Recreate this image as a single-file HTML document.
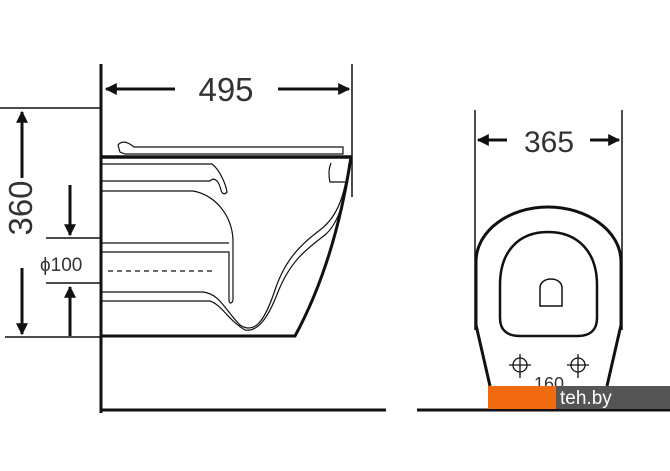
<!DOCTYPE html>
<html><head><style>
html,body{margin:0;padding:0;background:#fff;}
body{width:670px;height:471px;overflow:hidden;position:relative;font-family:"Liberation Sans",sans-serif;}
</style></head><body>
<svg width="670" height="471" viewBox="0 0 670 471" style="position:absolute;left:0;top:0">
<defs>
<marker id="a" viewBox="0 0 10 10" refX="9" refY="5" markerWidth="4" markerHeight="4" orient="auto"><path d="M0,0 L10,5 L0,10z" fill="#111"/></marker>
</defs>
<g stroke="#111" fill="none">
<line x1="101" y1="64" x2="101" y2="413" stroke-width="3"/>
<line x1="100" y1="410" x2="386" y2="410" stroke-width="3"/>
<line x1="0" y1="108" x2="101" y2="108" stroke-width="1.5"/>
<line x1="5" y1="337" x2="101" y2="337" stroke-width="1.5"/>
<line x1="46" y1="238" x2="101" y2="238" stroke-width="1.5"/>
<line x1="46" y1="283" x2="101" y2="283" stroke-width="1.5"/>
<line x1="352" y1="64" x2="352" y2="197" stroke-width="1.5"/>
<line x1="175" y1="89" x2="106" y2="89" stroke-width="3" marker-end="url(#a)"/>
<line x1="278" y1="89" x2="349" y2="89" stroke-width="3" marker-end="url(#a)"/>
<line x1="22" y1="178" x2="22" y2="112" stroke-width="3" marker-end="url(#a)"/>
<line x1="22" y1="268" x2="22" y2="334" stroke-width="3" marker-end="url(#a)"/>
<line x1="70" y1="185" x2="70" y2="235" stroke-width="3" marker-end="url(#a)"/>
<line x1="70" y1="336" x2="70" y2="287" stroke-width="3" marker-end="url(#a)"/>
<line x1="108" y1="271" x2="213" y2="271" stroke-width="1.2" stroke-dasharray="5,4"/>
<line x1="101" y1="157" x2="352" y2="157" stroke-width="3.5"/>
<path d="M351,157 C340,230 320,290 295,336 L101,336" stroke-width="3"/>
<path d="M120,152 L118,145 C122,140 128,142 134,147 L343,147 L343,154 L125,154 Z" stroke-width="1.2"/>
<g stroke-width="1.2">
<path d="M101,164 L212,164 C220,170 226,185 227,192 C225,195 222,194 221,190 C219,182 215,176 210,181 L101,181"/>
<path d="M101,191 L193,191 C215,195 232,215 233,240 L233,300 C232,304 229,304 229,300 L229,252 L101,252"/>
<path d="M229,243 L101,243"/>
<path d="M101,292 L203,292 C220,294 225,310 240,325 C255,335 265,320 275,290 C285,260 300,245 320,230 C340,215 345,190 349,164"/>
<path d="M101,301 L210,301 C222,305 228,320 245,330 C258,332 268,318 278,292 C290,262 305,250 325,235 C340,222 346,195 349,166"/>
<path d="M331,163 C328,170 329,178 330,182 L345,182"/>
</g>
<line x1="475" y1="110" x2="475" y2="330" stroke-width="1.5"/>
<line x1="622" y1="110" x2="622" y2="330" stroke-width="1.5"/>
<line x1="507" y1="140" x2="478" y2="140" stroke-width="3" marker-end="url(#a)"/>
<line x1="590" y1="140" x2="619" y2="140" stroke-width="3" marker-end="url(#a)"/>
<path d="M490,386 L476,325 L476,262 C476,230 510,207 548,207 C586,207 621,230 621,262 L621,325 L607,386" stroke-width="3"/>
<path d="M548,232 C578,232 597,252 597,285 L597,318 C597,330 590,336 578,336 L520,336 C507,336 500,330 500,318 L500,285 C500,252 518,232 548,232 Z" stroke-width="2.5"/>
<path d="M540,306 L540,288 C540,276 562,276 562,288 L562,306 Z" stroke-width="1.5"/>
<g stroke-width="1.3"><circle cx="520" cy="365" r="7"/><line x1="509" y1="365" x2="531" y2="365"/><line x1="520" y1="354" x2="520" y2="378"/>
<circle cx="578" cy="365" r="7"/><line x1="567" y1="365" x2="589" y2="365"/><line x1="578" y1="354" x2="578" y2="378"/></g>
<line x1="417" y1="410" x2="670" y2="410" stroke-width="3"/>
</g>
<g fill="#333" font-family="Liberation Sans,sans-serif">
<text x="226" y="101" font-size="33" text-anchor="middle">495</text>
<text x="549" y="152" font-size="30" text-anchor="middle">365</text>
<text transform="translate(32,208) rotate(-90)" font-size="33" text-anchor="middle">360</text>
<text x="40" y="271" font-size="19">ϕ100</text>
<text x="549" y="390" font-size="18" text-anchor="middle">160</text>
</g>
<rect x="488" y="386" width="68" height="23" fill="#f26a10"/>
<rect x="556" y="386" width="114" height="23" fill="#555"/>
<text x="560" y="404" font-size="19" fill="#fff" font-family="Liberation Sans,sans-serif">teh.by</text>
</svg>
</body></html>
